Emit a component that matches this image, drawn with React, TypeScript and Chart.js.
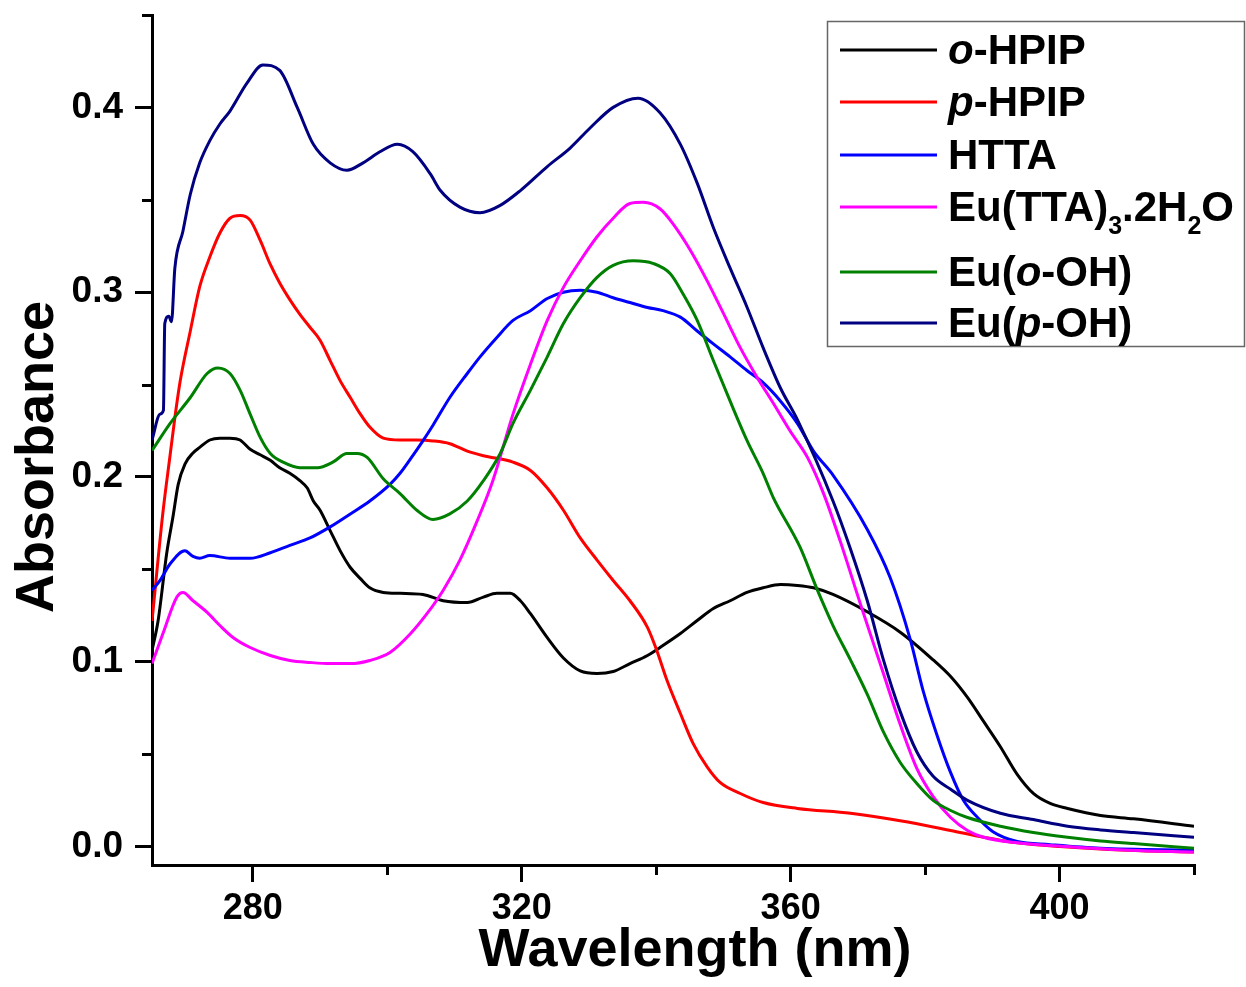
import React, { useEffect, useRef } from 'react';
import { Chart, registerables } from 'chart.js';

Chart.register(...registerables);

const FONT = '"Liberation Sans", Arial, Helvetica, sans-serif';

// ---------- data (wavelength in nm, absorbance) ----------
const O_HPIP_WL = [265.0, 265.9, 267.2, 268.1, 268.9, 269.9, 271.1, 272.1, 273.6, 275.1, 276.6, 278.1, 279.6, 281.1, 282.6, 284.0, 285.5, 287.0, 288.1, 289.0, 290.0, 291.5, 293.0, 294.5, 296.0, 297.4, 299.4, 301.9, 305.3, 308.3, 311.9, 314.3, 316.3, 318.3, 319.8, 321.3, 323.8, 326.2, 328.7, 331.2, 333.6, 336.1, 338.7, 341.0, 343.6, 346.1, 348.5, 351.0, 353.5, 355.9, 358.5, 361.0, 363.4, 366.3, 371.4, 376.3, 381.2, 383.8, 386.3, 388.7, 391.2, 393.7, 396.1, 398.6, 401.2, 406.1, 411.0, 420.0];
const O_HPIP_ABS = [0.106, 0.122, 0.159, 0.178, 0.196, 0.207, 0.213, 0.216, 0.220, 0.221, 0.221, 0.220, 0.215, 0.212, 0.209, 0.205, 0.202, 0.198, 0.194, 0.187, 0.182, 0.171, 0.160, 0.151, 0.145, 0.140, 0.1375, 0.137, 0.1364, 0.133, 0.132, 0.135, 0.137, 0.137, 0.133, 0.126, 0.113, 0.102, 0.095, 0.0936, 0.0947, 0.099, 0.1034, 0.1088, 0.1153, 0.1223, 0.1288, 0.133, 0.1375, 0.140, 0.1418, 0.1413, 0.140, 0.1364, 0.127, 0.116, 0.101, 0.092, 0.0807, 0.0677, 0.054, 0.039, 0.0287, 0.0233, 0.0206, 0.0168, 0.015, 0.011];

const P_HPIP_WL = [265.0, 266.6, 267.7, 268.4, 269.2, 270.7, 272.1, 273.6, 275.1, 276.6, 278.1, 279.6, 281.1, 282.6, 284.0, 285.5, 287.0, 288.5, 290.0, 291.5, 293.0, 294.5, 296.0, 297.4, 299.4, 301.9, 304.4, 306.8, 309.3, 311.9, 314.3, 318.7, 321.3, 323.8, 326.2, 328.7, 331.2, 333.6, 336.1, 338.7, 340.1, 341.6, 343.6, 345.5, 347.6, 349.5, 352.5, 355.9, 361.0, 368.9, 376.3, 383.8, 388.7, 393.7, 400.0, 410.0, 420.0];
const P_HPIP_ABS = [0.122, 0.18, 0.212, 0.232, 0.252, 0.279, 0.303, 0.319, 0.332, 0.340, 0.3415, 0.339, 0.328, 0.315, 0.305, 0.296, 0.288, 0.281, 0.274, 0.263, 0.252, 0.243, 0.234, 0.227, 0.221, 0.220, 0.220, 0.2195, 0.218, 0.214, 0.2115, 0.208, 0.2035, 0.194, 0.182, 0.167, 0.155, 0.144, 0.133, 0.1186, 0.106, 0.090, 0.072, 0.0557, 0.043, 0.0347, 0.0287, 0.0238, 0.0206, 0.018, 0.014, 0.0087, 0.005, 0.002, 0.0, -0.002, -0.003];

const HTTA_WL = [265.0, 266.2, 267.7, 269.9, 271.1, 272.1, 273.6, 276.6, 279.6, 282.6, 285.5, 288.5, 291.5, 294.5, 297.4, 300.4, 301.9, 303.4, 305.2, 306.8, 309.3, 311.9, 313.8, 316.3, 318.7, 321.3, 323.8, 326.2, 328.7, 331.2, 333.6, 336.1, 338.7, 341.0, 343.6, 346.1, 348.5, 351.0, 353.5, 355.9, 358.5, 361.0, 363.4, 366.3, 371.4, 374.8, 377.8, 379.7, 381.8, 383.8, 385.7, 387.8, 390.1, 393.7, 398.6, 406.1, 420.0];
const HTTA_ABS = [0.1386, 0.144, 0.153, 0.160, 0.157, 0.156, 0.1575, 0.156, 0.156, 0.159, 0.163, 0.167, 0.173, 0.180, 0.187, 0.196, 0.202, 0.2095, 0.219, 0.228, 0.243, 0.256, 0.265, 0.2755, 0.2847, 0.290, 0.2966, 0.300, 0.301, 0.300, 0.297, 0.2944, 0.2917, 0.290, 0.2865, 0.279, 0.272, 0.265, 0.2576, 0.251, 0.241, 0.229, 0.214, 0.201, 0.1716, 0.1456, 0.112, 0.0844, 0.060, 0.040, 0.025, 0.0157, 0.008, 0.0027, 0.001, -0.001, -0.002];

const EU_TTA_WL = [265.0, 266.6, 268.7, 269.6, 271.1, 273.2, 275.1, 277.1, 279.6, 282.6, 285.5, 288.5, 291.5, 294.5, 297.4, 300.4, 303.4, 305.9, 308.3, 310.8, 313.4, 315.7, 318.7, 321.3, 323.8, 326.2, 328.7, 331.2, 333.6, 336.1, 338.1, 340.6, 342.5, 345.1, 347.6, 350.0, 352.5, 355.0, 357.4, 359.9, 362.5, 364.9, 367.4, 370.4, 373.8, 376.3, 378.8, 381.2, 383.8, 386.3, 388.7, 393.7, 401.2, 410.5, 420.0];
const EU_TTA_ABS = [0.099, 0.115, 0.135, 0.1375, 0.133, 0.1267, 0.1196, 0.113, 0.1077, 0.1034, 0.1007, 0.0996, 0.099, 0.099, 0.1007, 0.105, 0.115, 0.126, 0.1386, 0.155, 0.1765, 0.198, 0.234, 0.261, 0.2847, 0.3026, 0.317, 0.330, 0.340, 0.348, 0.3486, 0.345, 0.337, 0.3226, 0.306, 0.2885, 0.270, 0.254, 0.240, 0.225, 0.2106, 0.191, 0.165, 0.131, 0.0936, 0.066, 0.042, 0.027, 0.0157, 0.0087, 0.005, 0.002, 0.0, -0.002, -0.003];

const EU_O_OH_WL = [265.0, 267.7, 270.7, 273.2, 274.8, 276.6, 278.1, 279.6, 281.1, 282.6, 284.5, 287.0, 289.6, 291.9, 294.0, 295.5, 297.0, 299.4, 301.9, 304.4, 306.8, 309.3, 311.9, 314.3, 316.8, 318.7, 321.3, 323.8, 326.2, 328.7, 331.2, 333.6, 336.6, 339.6, 342.1, 344.0, 346.1, 348.5, 351.0, 353.5, 355.9, 357.4, 361.4, 364.0, 366.3, 368.9, 371.4, 373.8, 376.3, 378.8, 381.2, 383.8, 386.3, 391.2, 396.1, 401.2, 406.1, 411.0, 420.0];
const EU_O_OH_ABS = [0.2143, 0.229, 0.243, 0.256, 0.259, 0.256, 0.247, 0.234, 0.2214, 0.2127, 0.208, 0.205, 0.205, 0.208, 0.2127, 0.2127, 0.2106, 0.199, 0.191, 0.182, 0.177, 0.180, 0.187, 0.198, 0.2127, 0.229, 0.247, 0.265, 0.283, 0.297, 0.308, 0.3145, 0.317, 0.3155, 0.310, 0.299, 0.2847, 0.263, 0.241, 0.2198, 0.202, 0.189, 0.162, 0.1386, 0.1196, 0.101, 0.0823, 0.062, 0.0455, 0.034, 0.025, 0.0195, 0.0157, 0.011, 0.0076, 0.005, 0.003, 0.0016, -0.001];

const EU_P_OH_WL = [265.0, 266.2, 266.7, 266.9, 267.5, 267.9, 268.4, 269.6, 270.7, 272.1, 273.6, 275.1, 276.6, 279.1, 281.5, 284.0, 286.6, 289.0, 291.5, 294.0, 296.4, 298.9, 301.5, 303.8, 306.4, 307.9, 310.8, 313.8, 316.8, 319.8, 323.8, 327.2, 330.2, 333.6, 337.3, 340.6, 343.6, 346.1, 348.5, 351.0, 353.5, 355.9, 358.5, 361.0, 366.3, 368.9, 371.4, 373.8, 376.3, 378.8, 381.2, 383.8, 386.3, 391.2, 396.1, 401.2, 406.1, 411.0, 420.0];
const EU_P_OH_ABS = [0.220, 0.234, 0.236, 0.283, 0.287, 0.284, 0.313, 0.333, 0.353, 0.370, 0.382, 0.391, 0.398, 0.413, 0.423, 0.420, 0.400, 0.380, 0.370, 0.366, 0.370, 0.376, 0.380, 0.376, 0.364, 0.355, 0.346, 0.343, 0.347, 0.355, 0.368, 0.378, 0.389, 0.400, 0.405, 0.397, 0.380, 0.359, 0.335, 0.313, 0.292, 0.270, 0.248, 0.231, 0.187, 0.161, 0.133, 0.101, 0.073, 0.051, 0.038, 0.031, 0.025, 0.018, 0.0146, 0.011, 0.009, 0.0076, 0.005];

const SERIES_NAMES = ['o-HPIP', 'p-HPIP', 'HTTA', 'Eu(TTA)3.2H2O', 'Eu(o-OH)', 'Eu(p-OH)'];
const SERIES_COLORS = ['#000000', '#ff0000', '#0000ff', '#ff00ff', '#008000', '#000080'];
const SERIES_WL = [O_HPIP_WL, P_HPIP_WL, HTTA_WL, EU_TTA_WL, EU_O_OH_WL, EU_P_OH_WL];
const SERIES_ABS = [O_HPIP_ABS, P_HPIP_ABS, HTTA_ABS, EU_TTA_ABS, EU_O_OH_ABS, EU_P_OH_ABS];

type Seg = { t: string; i?: boolean; sub?: boolean };
const LEGEND_LABELS: Seg[][] = [
  [{ t: 'o', i: true }, { t: '-HPIP' }],
  [{ t: 'p', i: true }, { t: '-HPIP' }],
  [{ t: 'HTTA' }],
  [{ t: 'Eu(TTA)' }, { t: '3', sub: true }, { t: '.2H' }, { t: '2', sub: true }, { t: 'O' }],
  [{ t: 'Eu(' }, { t: 'o', i: true }, { t: '-OH)' }],
  [{ t: 'Eu(' }, { t: 'p', i: true }, { t: '-OH)' }],
];

const X_TITLE = 'Wavelength (nm)';
const Y_TITLE = 'Absorbance';
const X_MIN = 265;
const X_MAX = 420;
const Y_MIN = -0.01;
const Y_MAX = 0.45;
const X_TICKS = [280, 320, 360, 400];
const X_TICK_LABELS = ['280', '320', '360', '400'];
const X_MINOR_TICKS = [300, 340, 380, 420];
const Y_TICKS = [0.0, 0.1, 0.2, 0.3, 0.4];
const Y_TICK_LABELS = ['0.0', '0.1', '0.2', '0.3', '0.4'];
const Y_MINOR_TICKS = [0.05, 0.15, 0.25, 0.35, 0.45];

// ---------- layout constants ----------
const W = 1246;
const H = 987;
const LEG_BOX = { left: 827, top: 21, right: 1245, bottom: 347 };
const LEG_LINE_X1 = 840;
const LEG_LINE_X2 = 937;
const LEG_TEXT_X = 948;
const LEG_ROWS_Y = [50, 102, 155, 207, 272, 323];
const LEG_FONT = 42;
const LEG_SUB_FONT = 25;

const decorPlugin = {
  id: 'decor',
  afterDraw(chart: any) {
    const ctx: CanvasRenderingContext2D = chart.ctx;
    const xs = chart.scales.x;
    const ys = chart.scales.y;
    const area = chart.chartArea;
    ctx.save();
    // minor ticks
    ctx.strokeStyle = '#000';
    ctx.lineWidth = 3;
    ctx.lineCap = 'butt';
    Y_MINOR_TICKS.forEach((v) => {
      const py = Math.round(ys.getPixelForValue(v)) + 0.5;
      ctx.beginPath();
      ctx.moveTo(area.left, py);
      ctx.lineTo(area.left - 10, py);
      ctx.stroke();
    });
    X_MINOR_TICKS.forEach((v) => {
      const px = Math.round(xs.getPixelForValue(v)) + 0.5;
      ctx.beginPath();
      ctx.moveTo(px, area.bottom);
      ctx.lineTo(px, area.bottom + 10);
      ctx.stroke();
    });

    // axis titles
    ctx.fillStyle = '#000';
    ctx.font = `bold 54px ${FONT}`;
    ctx.textAlign = 'center';
    ctx.textBaseline = 'alphabetic';
    ctx.fillText(X_TITLE, 695, 966);
    ctx.save();
    ctx.translate(53, 457);
    ctx.rotate(-Math.PI / 2);
    ctx.fillText(Y_TITLE, 0, 0);
    ctx.restore();

    // legend
    ctx.fillStyle = '#fff';
    ctx.fillRect(LEG_BOX.left, LEG_BOX.top, LEG_BOX.right - LEG_BOX.left, LEG_BOX.bottom - LEG_BOX.top);
    ctx.strokeStyle = '#666';
    ctx.lineWidth = 1.5;
    ctx.strokeRect(LEG_BOX.left + 0.5, LEG_BOX.top + 0.5, LEG_BOX.right - LEG_BOX.left - 1, LEG_BOX.bottom - LEG_BOX.top - 1);
    LEGEND_LABELS.forEach((segs, idx) => {
      const ry = LEG_ROWS_Y[idx];
      ctx.strokeStyle = SERIES_COLORS[idx];
      ctx.lineWidth = 3;
      ctx.beginPath();
      ctx.moveTo(LEG_LINE_X1, ry);
      ctx.lineTo(LEG_LINE_X2, ry);
      ctx.stroke();
      const baseline = ry + LEG_FONT * 0.345;
      let x = LEG_TEXT_X;
      ctx.fillStyle = '#000';
      ctx.textAlign = 'left';
      ctx.textBaseline = 'alphabetic';
      segs.forEach((s) => {
        const size = s.sub ? LEG_SUB_FONT : LEG_FONT;
        ctx.font = `${s.i ? 'italic ' : ''}bold ${size}px ${FONT}`;
        const y = s.sub ? baseline + 13 : baseline;
        ctx.fillText(s.t, x, y);
        x += ctx.measureText(s.t).width;
      });
    });
    ctx.restore();
  },
};

export default function App() {
  const canvasRef = useRef<HTMLCanvasElement | null>(null);

  useEffect(() => {
    if (!canvasRef.current) return;
    Chart.defaults.font.family = FONT;
    Chart.defaults.color = '#000';
    const datasets = SERIES_NAMES.map((name, i) => ({
      label: name,
      data: SERIES_WL[i].map((x, j) => ({ x, y: SERIES_ABS[i][j] })),
      borderColor: SERIES_COLORS[i],
      backgroundColor: SERIES_COLORS[i],
      borderWidth: 3,
      pointRadius: 0,
      fill: false,
      cubicInterpolationMode: 'monotone' as const,
      order: SERIES_NAMES.length - 1 - i,
    }));

    const chart = new Chart(canvasRef.current, {
      type: 'line',
      data: { datasets },
      options: {
        animation: false,
        responsive: true,
        maintainAspectRatio: false,
        layout: { padding: { top: 15, right: 52, left: 0, bottom: 0 } },
        plugins: {
          legend: { display: false },
          tooltip: { enabled: false },
        },
        scales: {
          x: {
            type: 'linear',
            min: X_MIN,
            max: X_MAX,
            afterBuildTicks: (s: any) => {
              s.ticks = X_TICKS.map((value) => ({ value }));
            },
            afterFit: (s: any) => {
              s.height = 122;
              s.paddingLeft = 0;
              s.paddingRight = 0;
              s.paddingTop = 0;
              s.paddingBottom = 0;
            },
            grid: {
              display: true,
              drawOnChartArea: false,
              drawTicks: true,
              tickLength: 17,
              lineWidth: 3,
              color: '#000',
            },
            border: { display: true, color: '#000', width: 3 },
            ticks: {
              color: '#000',
              font: { family: FONT, size: 36, weight: 'bold' },
              padding: 5,
              maxRotation: 0,
              autoSkip: false,
              callback: (_v: any, i: number) => X_TICK_LABELS[i],
            },
          },
          y: {
            type: 'linear',
            min: Y_MIN,
            max: Y_MAX,
            afterBuildTicks: (s: any) => {
              s.ticks = Y_TICKS.map((value) => ({ value }));
            },
            afterFit: (s: any) => {
              s.width = 152;
              s.paddingLeft = 0;
              s.paddingRight = 0;
              s.paddingTop = 0;
              s.paddingBottom = 0;
            },
            grid: {
              display: true,
              drawOnChartArea: false,
              drawTicks: true,
              tickLength: 17,
              lineWidth: 3,
              color: '#000',
            },
            border: { display: true, color: '#000', width: 3 },
            ticks: {
              color: '#000',
              font: { family: FONT, size: 37, weight: 'bold' },
              padding: 12,
              autoSkip: false,
              callback: (_v: any, i: number) => Y_TICK_LABELS[i],
            },
          },
        },
      },
      plugins: [decorPlugin],
    } as any);

    return () => {
      chart.destroy();
    };
  }, []);

  return (
    <div style={{ position: 'absolute', left: 0, top: 0, width: W, height: H, background: '#fff' }}>
      <canvas ref={canvasRef} />
    </div>
  );
}
